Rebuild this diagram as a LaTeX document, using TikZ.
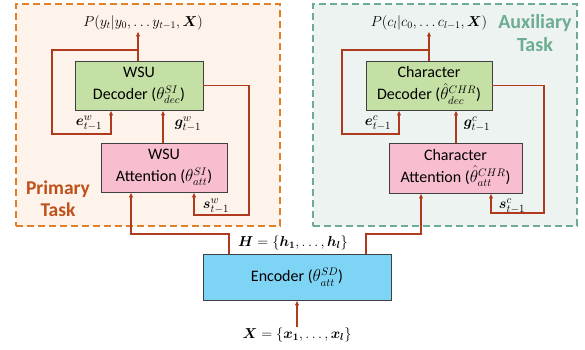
\documentclass[tikz,border=0pt]{standalone}
\usepackage{fontspec}
\setmainfont{Carlito}
\usepackage{amsmath,bm}
\usetikzlibrary{arrows.meta}

\definecolor{arrowred}{RGB}{176,58,30}
\definecolor{taskorange}{RGB}{226,128,40}
\definecolor{peach}{RGB}{253,243,234}
\definecolor{taskgreen}{RGB}{108,172,146}
\definecolor{mintgray}{RGB}{237,243,240}
\definecolor{decgreen}{RGB}{197,224,165}
\definecolor{attpink}{RGB}{248,190,208}
\definecolor{encblue}{RGB}{126,212,244}
\definecolor{primtext}{RGB}{190,80,26}

\tikzset{
  taskbox/.style={shape=rectangle,line width=1.5pt,dash pattern=on 7pt off 4pt,inner sep=0pt},
  block/.style={shape=rectangle,draw=black!75,line width=0.8pt,inner sep=0pt,align=center,
    font=\fontsize{16}{22}\selectfont},
  arr/.style={draw=arrowred,line width=1.5pt,-{Latex[length=5pt,width=4.5pt]}},
  lbl/.style={font=\fontsize{14}{16}\selectfont,inner sep=1pt},
  vlbl/.style={font=\fontsize{15.5}{17}\selectfont,inner sep=1pt}
}

\begin{document}
\begin{tikzpicture}[x=1pt,y=-1pt]
        \useasboundingbox (0,0) rectangle (585,349);
        % task frames
        \node[taskbox,draw=taskorange,fill=peach,minimum width=264pt,minimum height=222pt](primary) at (148,115) {};
        \node[taskbox,draw=taskgreen,fill=mintgray,minimum width=264pt,minimum height=222pt](auxiliary) at (445,115) {};
        \node[align=center,font=\fontsize{19.5}{22}\selectfont\bfseries,text=primtext](ptask) at (58,199) {Primary\\Task};
        \node[align=center,font=\fontsize{20}{23}\selectfont\bfseries,text=taskgreen](atask) at (535,33.5) {Auxiliary\\Task};
        % blocks
        \node[block,fill=decgreen,minimum width=128pt,minimum height=49pt](dwsu) at (139,85.5) {WSU\\Decoder ($\theta^{SI}_{dec}$)};
        \node[block,fill=attpink,minimum width=126pt,minimum height=49pt](awsu) at (164,167.5) {WSU\\Attention ($\theta^{SI}_{att}$)};
        \node[block,fill=decgreen,minimum width=126pt,minimum height=49pt](dchr) at (429,85.5) {Character\\Decoder ($\hat{\theta}^{CHR}_{dec}$)};
        \node[block,fill=attpink,minimum width=133pt,minimum height=50pt](achr) at (455.5,168) {Character\\Attention ($\hat{\theta}^{CHR}_{att}$)};
        \node[block,fill=encblue,minimum width=188pt,minimum height=46pt](enc) at (297,277) {Encoder ($\theta^{SD}_{att}$)};
        % texts
        \node[lbl](pw) at (143,23) {$P(y_t|y_0,\ldots y_{t-1},\bm{X})$};
        \node[lbl](pc) at (429,23) {$P(c_l|c_0,\ldots c_{l-1},\bm{X})$};
        \node[vlbl](ew) at (89,123) {$\bm{e}^{w}_{t-1}$};
        \node[vlbl](gw) at (188,124) {$\bm{g}^{w}_{t-1}$};
        \node[vlbl](sw) at (216,206) {$\bm{s}^{w}_{t-1}$};
        \node[vlbl](ec) at (378,123) {$\bm{e}^{c}_{t-1}$};
        \node[vlbl](gc) at (477,124) {$\bm{g}^{c}_{t-1}$};
        \node[vlbl](sc) at (512,206) {$\bm{s}^{c}_{t-1}$};
        \node[lbl](hset) at (293,243) {$\bm{H}=\{\bm{h}_{\bm 1},\ldots,\bm{h}_{\bm l}\}$};
        \node[lbl](xset) at (297,335) {$\bm{X}=\{\bm{x}_{\bm 1},\ldots,\bm{x}_{\bm l}\}$};
        % corners
        \coordinate (jw) at (138,50);
        \coordinate (lw) at (52,134);
        \coordinate (iw) at (111,134);
        \coordinate (gwb) at (163,0);
        \coordinate (rw) at (249,215);
        \coordinate (bw) at (194,215);
        \coordinate (jc) at (429,50);
        \coordinate (lc) at (342,134);
        \coordinate (ic) at (399,134);
        \coordinate (gcb) at (456,0);
        \coordinate (rc) at (544,213);
        \coordinate (bc) at (491,213);
        \coordinate (hl) at (229,234);
        \coordinate (hr) at (366,234);
        \coordinate (inw) at (131,234);
        \coordinate (inc) at (421,234);
        % primary task
        \draw[arr] (dwsu.north -| jw) -- (jw |- pw.south);
        \draw[arr] (jw) -| (lw) -- (iw) -- (iw |- dwsu.south);
        \draw[arr] (gwb |- awsu.north) -- (gwb |- dwsu.south);
        \draw[arr] (dwsu.east) -| (rw) -- (bw) -- (bw |- awsu.south);
        % auxiliary task
        \draw[arr] (dchr.north -| jc) -- (jc |- pc.south);
        \draw[arr] (jc) -| (lc) -- (ic) -- (ic |- dchr.south);
        \draw[arr] (gcb |- achr.north) -- (gcb |- dchr.south);
        \draw[arr] (dchr.east) -| (rc) -- (bc) -- (bc |- achr.south);
        % encoder
        \draw[arr] (hl |- enc.north) -- (hl) -- (inw) -- (inw |- awsu.south);
        \draw[arr] (hr |- enc.north) -- (hr) -- (inc) -- (inc |- achr.south);
        \draw[arr] (xset.north) -- (enc.south);
\end{tikzpicture}
\end{document}
